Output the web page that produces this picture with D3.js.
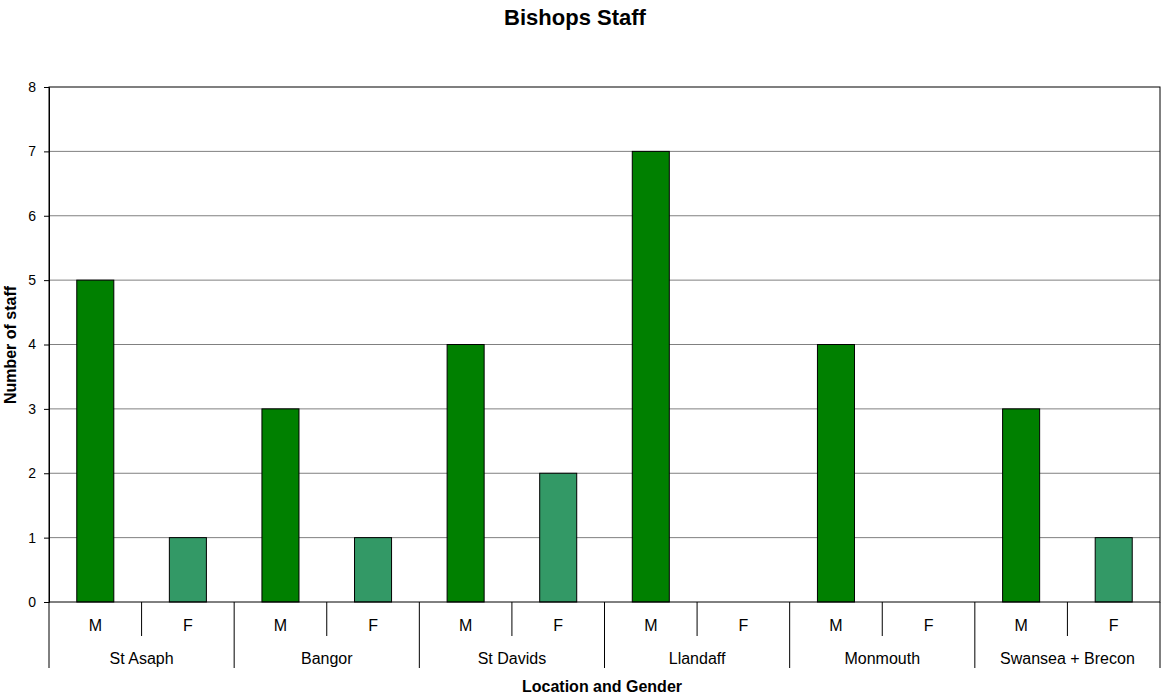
<!DOCTYPE html>
<html>
<head>
<meta charset="utf-8">
<script src="https://cdn.jsdelivr.net/npm/d3@7"></script>
<style>
  body { margin: 0; background: #fff; }
  svg { display: block; font-family: "Liberation Sans", Arial, sans-serif; }
</style>
</head>
<body>
<svg id="chart" width="1161" height="697"></svg>
<script>
// Staff counts per diocese, split by gender
const locations = ["St Asaph", "Bangor", "St Davids", "Llandaff", "Monmouth", "Swansea + Brecon"];
const genders = ["M", "F"];
const maleCounts = [5, 3, 4, 7, 4, 3];
const femaleCounts = [1, 1, 2, 0, 0, 1];
const yTicks = [0, 1, 2, 3, 4, 5, 6, 7, 8];

const FONT = "'Liberation Sans', Arial, sans-serif";
const svg = d3.select("#chart");
const margin = { left: 49, right: 1160, top: 87, bottom: 602 };

const rows = [];
locations.forEach((loc, i) => {
  rows.push({ key: loc + "|M", loc, g: "M", v: maleCounts[i] });
  rows.push({ key: loc + "|F", loc, g: "F", v: femaleCounts[i] });
});

const x = d3.scaleBand().domain(rows.map(d => d.key)).range([margin.left, margin.right]);
const xGroup = d3.scaleBand().domain(locations).range([margin.left, margin.right]);
const y = d3.scaleLinear().domain([0, 8]).range([margin.bottom, margin.top]);

// Horizontal gridlines
svg.append("g")
  .selectAll("line")
  .data(yTicks.slice(1, -1))
  .join("line")
  .attr("x1", margin.left).attr("x2", margin.right)
  .attr("y1", d => y(d)).attr("y2", d => y(d))
  .attr("stroke", "#808080").attr("stroke-width", 1);

// Bars
const barW = x.bandwidth() * 0.4;
svg.append("g")
  .selectAll("rect")
  .data(rows.filter(d => d.v > 0))
  .join("rect")
  .attr("x", d => x(d.key) + (x.bandwidth() - barW) / 2)
  .attr("y", d => y(d.v))
  .attr("width", barW)
  .attr("height", d => y(0) - y(d.v))
  .attr("fill", d => d.g === "M" ? "#008000" : "#339966")
  .attr("stroke", "#000").attr("stroke-width", 1);

// Plot border
svg.append("rect")
  .attr("x", margin.left).attr("y", margin.top)
  .attr("width", margin.right - margin.left)
  .attr("height", margin.bottom - margin.top)
  .attr("fill", "none").attr("stroke", "#000").attr("stroke-width", 1);

// Y axis
const yAxis = svg.append("g")
  .attr("transform", `translate(${margin.left},0)`)
  .call(d3.axisLeft(y).tickValues(yTicks).tickFormat(d3.format("d")).tickSize(5).tickPadding(8));
yAxis.select(".domain").attr("stroke", "#000");
yAxis.selectAll(".tick line").attr("stroke", "#000");
yAxis.selectAll("text").attr("font-size", 14).attr("fill", "#000").attr("font-family", FONT);

// X axis: gender row
const xAxis = svg.append("g")
  .attr("transform", `translate(0,${margin.bottom})`)
  .call(d3.axisBottom(x).tickSize(0).tickPadding(0).tickFormat(k => k.split("|")[1]));
xAxis.select(".domain").remove();
xAxis.selectAll("text")
  .attr("dy", null).attr("y", 29)
  .attr("font-size", 16).attr("fill", "#000").attr("font-family", FONT);

// Separators between M and F within a location
svg.append("g")
  .selectAll("line")
  .data(rows.filter(d => d.g === "F"))
  .join("line")
  .attr("x1", d => x(d.key)).attr("x2", d => x(d.key))
  .attr("y1", margin.bottom).attr("y2", 636)
  .attr("stroke", "#000");

// Separators between locations
svg.append("g")
  .selectAll("line")
  .data(locations.concat(["__end"]))
  .join("line")
  .attr("x1", d => d === "__end" ? margin.right : xGroup(d))
  .attr("x2", d => d === "__end" ? margin.right : xGroup(d))
  .attr("y1", margin.bottom).attr("y2", 668)
  .attr("stroke", "#000");

// Location labels
svg.append("g")
  .selectAll("text")
  .data(locations)
  .join("text")
  .attr("x", d => xGroup(d) + xGroup.bandwidth() / 2)
  .attr("y", 664)
  .attr("text-anchor", "middle")
  .attr("font-size", 16)
  .text(d => d);

// Titles
svg.append("text")
  .attr("x", 575).attr("y", 25)
  .attr("text-anchor", "middle")
  .attr("font-size", 22).attr("font-weight", "bold")
  .text("Bishops Staff");

svg.append("text")
  .attr("x", 602).attr("y", 692)
  .attr("text-anchor", "middle")
  .attr("font-size", 16).attr("font-weight", "bold")
  .text("Location and Gender");

svg.append("text")
  .attr("transform", "translate(16,345) rotate(-90)")
  .attr("text-anchor", "middle")
  .attr("font-size", 16).attr("font-weight", "bold")
  .text("Number of staff");
</script>
</body>
</html>
